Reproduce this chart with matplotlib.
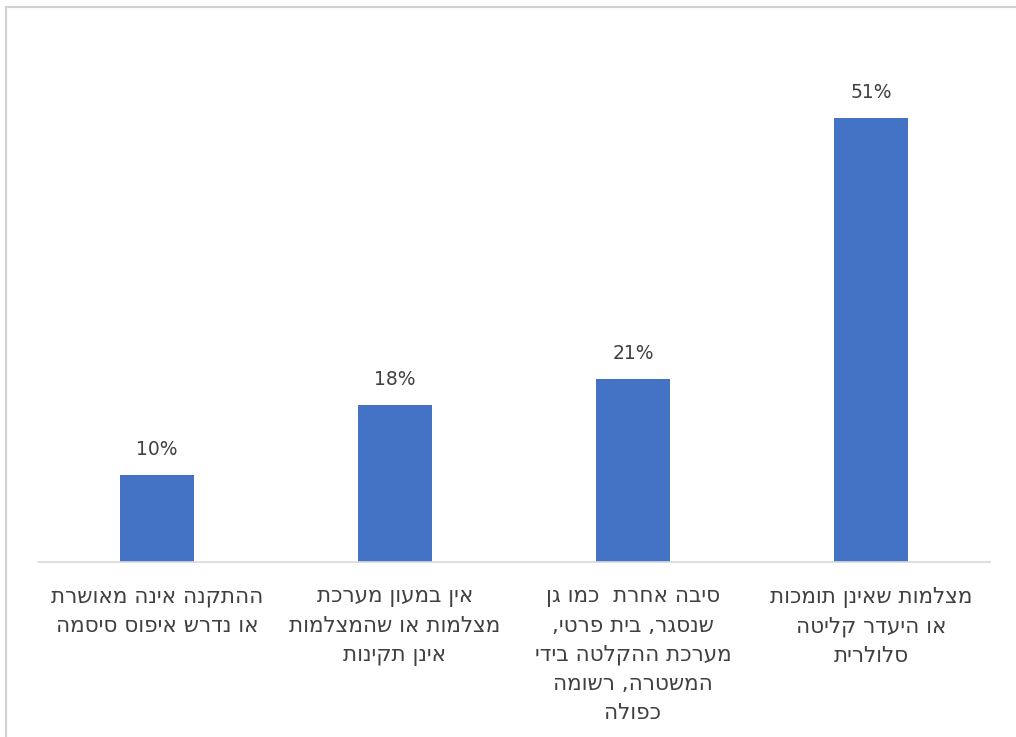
import matplotlib.pyplot as plt
from matplotlib.patches import Rectangle

# Hebrew labels (logical order); lines are reversed for display since matplotlib has no bidi
categories = [
    ["ההתקנה אינה מאושרת", "או נדרש איפוס סיסמה"],
    ["אין במעון מערכת", "מצלמות או שהמצלמות", "אינן תקינות"],
    ["סיבה אחרת  כמו גן", "שנסגר, בית פרטי,", "מערכת ההקלטה בידי", "המשטרה, רשומה", "כפולה"],
    ["מצלמות שאינן תומכות", "או היעדר קליטה", "סלולרית"],
]
values = [0.10, 0.18, 0.21, 0.51]

plt.rcParams['font.family'] = ['DejaVu Sans']


def visual(lines):
    return "\n".join(line[::-1] for line in lines)


fig = plt.figure(figsize=(10.16, 7.37), dpi=100)
ax = fig.add_axes([38 / 1016, (737 - 562) / 737, 952 / 1016, 522 / 737])

x = range(len(values))
bars = ax.bar(x, values, width=0.31, color='#4472C4')

ax.set_xlim(-0.5, len(values) - 0.5)
ax.set_ylim(0, 0.6)
ax.set_yticks([])
ax.set_xticks(list(x))
ax.set_xticklabels([visual(c) for c in categories], fontsize=15.5, color='#404040',
                   linespacing=1.55, va='top', ha='center')
ax.tick_params(axis='x', length=0, pad=18)
for side in ['top', 'right', 'left']:
    ax.spines[side].set_visible(False)
ax.spines['bottom'].set_color('#d9d9d9')
ax.spines['bottom'].set_linewidth(1.2)

for bar, v in zip(bars, values):
    ax.annotate(f'{v * 100:.0f}%', (bar.get_x() + bar.get_width() / 2, bar.get_height()),
                xytext=(0, 11.5), textcoords='offset points', ha='center', va='bottom',
                fontsize=13.5, color='#404040')

# outer chart frame (partially visible in the screenshot)
fig.add_artist(Rectangle((6 / 1016, -0.05), 1.1, (737 - 7) / 737 + 0.05,
                         transform=fig.transFigure, fill=False, edgecolor='#d0d0d0',
                         linewidth=1.5, clip_on=False))

fig.savefig('out.png', dpi=100)
